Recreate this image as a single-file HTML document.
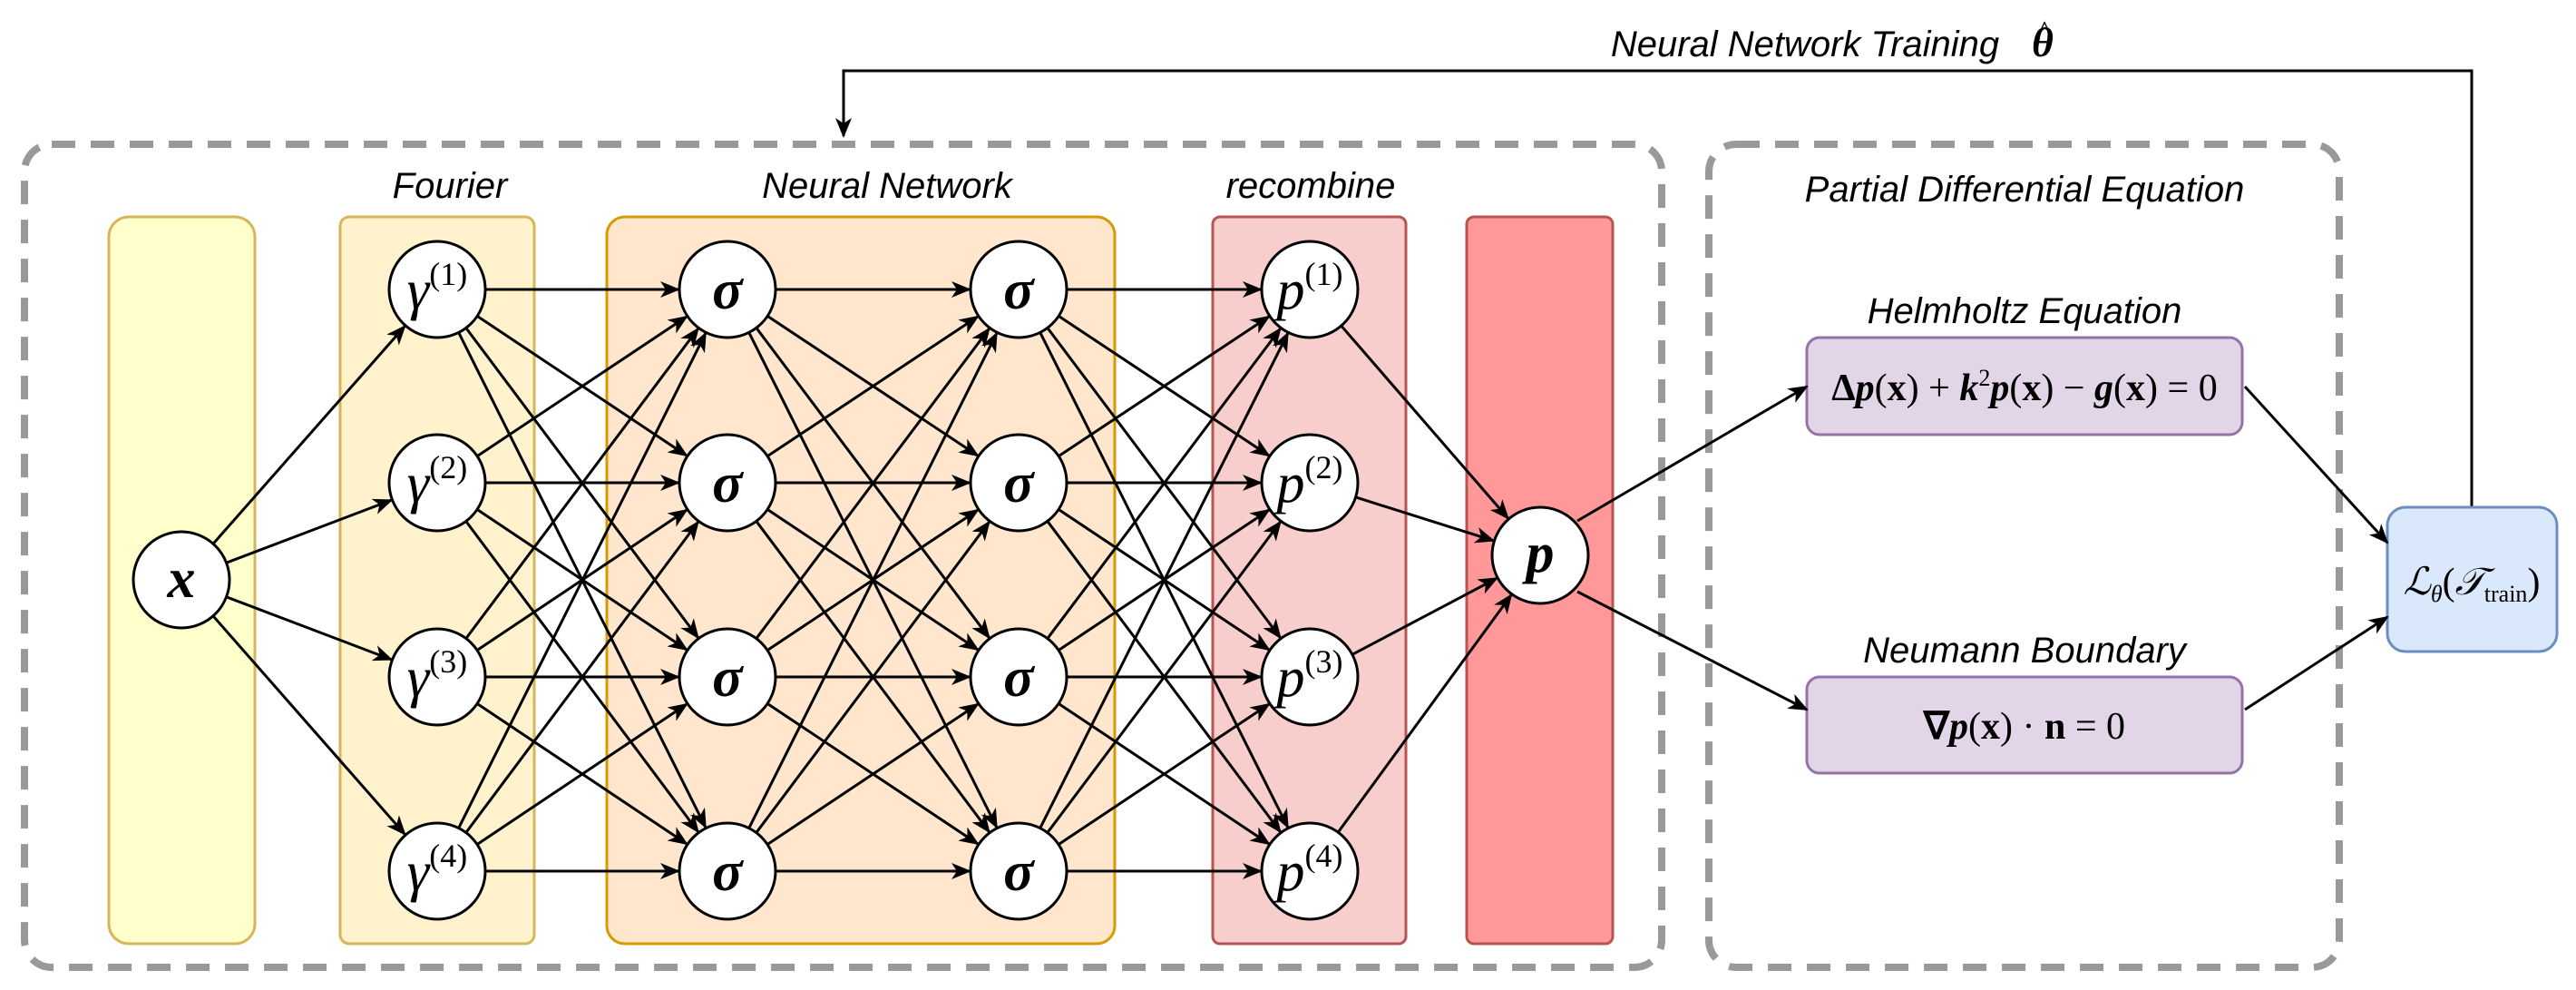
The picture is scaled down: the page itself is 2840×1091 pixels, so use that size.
<!DOCTYPE html>
<html><head><meta charset="utf-8"><style>
html,body{margin:0;padding:0;background:#fff;}
svg{display:block;}
.lab{font-family:"Liberation Sans",sans-serif;font-style:italic;font-size:40px;fill:#000;}
.m{font-family:"Liberation Serif",serif;font-style:italic;fill:#000;}
</style></head><body>
<svg id="s" width="2840" height="1091" viewBox="0 0 2840 1091" xmlns="http://www.w3.org/2000/svg">
<defs><marker id="a" markerWidth="22" markerHeight="18" refX="20" refY="9" orient="auto" markerUnits="userSpaceOnUse"><path d="M0,0 L22,9 L0,18 L6,9 z" fill="#000"/></marker></defs>
<rect x="27" y="159" width="1805" height="907" rx="30" fill="none" stroke="#999" stroke-width="8" stroke-dasharray="26 17"/>
<rect x="1884" y="159" width="695" height="907" rx="30" fill="none" stroke="#999" stroke-width="8" stroke-dasharray="26 17"/>
<rect x="120" y="239" width="161" height="801" rx="22" fill="#ffffcc" stroke="#d6b656" stroke-width="3"/>
<rect x="375" y="239" width="214" height="801" rx="10" fill="#fff2cc" stroke="#d6b656" stroke-width="3"/>
<rect x="669" y="239" width="560" height="801" rx="20" fill="#ffe6cc" stroke="#d79b00" stroke-width="3"/>
<rect x="1337" y="239" width="213" height="801" rx="8" fill="#f8cecc" stroke="#b85450" stroke-width="3"/>
<rect x="1617" y="239" width="161" height="801" rx="8" fill="#ff9999" stroke="#b85450" stroke-width="3"/>
<text class="lab" x="496" y="218" text-anchor="middle">Fourier</text>
<text class="lab" x="978" y="218" text-anchor="middle">Neural Network</text>
<text class="lab" x="1445" y="218" text-anchor="middle">recombine</text>
<text class="lab" x="2232" y="222" text-anchor="middle">Partial Differential Equation</text>
<text class="lab" x="2232" y="356" text-anchor="middle">Helmholtz Equation</text>
<text class="lab" x="2232" y="730" text-anchor="middle">Neumann Boundary</text>
<text class="lab" x="1990" y="62" text-anchor="middle">Neural Network Training</text>
<text class="m" x="2252" y="62" font-weight="bold" font-size="46" text-anchor="middle">θ</text>
<text x="2254" y="46" font-family="Liberation Serif,serif" font-size="34" text-anchor="middle">^</text>
<polyline points="2725,559 2725,78 930,78 930,150" fill="none" stroke="#000" stroke-width="3" marker-end="url(#a)"/>
<rect x="1992" y="372" width="480" height="107" rx="14" fill="#e1d5e7" stroke="#9673a6" stroke-width="3"/>
<rect x="1992" y="746" width="480" height="106" rx="14" fill="#e1d5e7" stroke="#9673a6" stroke-width="3"/>
<rect x="2632" y="559" width="187" height="159" rx="20" fill="#dae8fc" stroke="#6c8ebf" stroke-width="3"/>
<text x="2232" y="441" text-anchor="middle" font-family="Liberation Serif,serif" font-size="42"><tspan font-weight="bold">Δ</tspan><tspan font-style="italic" font-weight="bold">p</tspan>(<tspan font-weight="bold">x</tspan>) + <tspan font-style="italic" font-weight="bold">k</tspan><tspan font-size="26" dy="-16">2</tspan><tspan dy="16" font-style="italic" font-weight="bold">p</tspan>(<tspan font-weight="bold">x</tspan>) − <tspan font-style="italic" font-weight="bold">g</tspan>(<tspan font-weight="bold">x</tspan>) = 0</text>
<text x="2232" y="814" text-anchor="middle" font-family="Liberation Serif,serif" font-size="42"><tspan font-weight="bold">∇</tspan><tspan font-style="italic" font-weight="bold">p</tspan>(<tspan font-weight="bold">x</tspan>) · <tspan font-weight="bold">n</tspan> = 0</text>
<text x="2725" y="655" text-anchor="middle" font-family="Liberation Serif,serif" font-size="42"><tspan font-style="italic">ℒ</tspan><tspan font-style="italic" font-size="26" dy="8">θ</tspan><tspan dy="-8">(</tspan><tspan font-style="italic">𝒯</tspan><tspan font-size="26" dy="8">train</tspan><tspan dy="-8">)</tspan></text>
<g id="edges" stroke="#000" stroke-width="3" fill="none"></g>
<line x1="1739" y1="574" x2="1992" y2="426" stroke="#000" stroke-width="3" marker-end="url(#a)"/>
<line x1="1739" y1="652" x2="1992" y2="782" stroke="#000" stroke-width="3" marker-end="url(#a)"/>
<line x1="2475" y1="426" x2="2632" y2="598" stroke="#000" stroke-width="3" marker-end="url(#a)"/>
<line x1="2475" y1="782" x2="2632" y2="680" stroke="#000" stroke-width="3" marker-end="url(#a)"/>
<g id="nodes" fill="#fff" stroke="#000" stroke-width="3">
<circle cx="200" cy="639" r="53"/>
<circle cx="482" cy="319" r="53"/><circle cx="482" cy="532" r="53"/><circle cx="482" cy="746" r="53"/><circle cx="482" cy="960" r="53"/>
<circle cx="802" cy="319" r="53"/><circle cx="802" cy="532" r="53"/><circle cx="802" cy="746" r="53"/><circle cx="802" cy="960" r="53"/>
<circle cx="1123" cy="319" r="53"/><circle cx="1123" cy="532" r="53"/><circle cx="1123" cy="746" r="53"/><circle cx="1123" cy="960" r="53"/>
<circle cx="1444" cy="319" r="53"/><circle cx="1444" cy="532" r="53"/><circle cx="1444" cy="746" r="53"/><circle cx="1444" cy="960" r="53"/>
<circle cx="1698" cy="612" r="53"/>
</g>
<g class="m" font-size="62" text-anchor="middle">
<text x="200" y="658" font-weight="bold">x</text>
<text x="1698" y="630" font-weight="bold">p</text>
<g font-weight="bold">
<text x="802" y="340">σ</text><text x="802" y="553">σ</text><text x="802" y="767">σ</text><text x="802" y="981">σ</text>
<text x="1123" y="340">σ</text><text x="1123" y="553">σ</text><text x="1123" y="767">σ</text><text x="1123" y="981">σ</text>
</g>
<text x="482" y="340">γ<tspan font-style="normal" font-size="36" dy="-26">(1)</tspan></text>
<text x="482" y="553">γ<tspan font-style="normal" font-size="36" dy="-26">(2)</tspan></text>
<text x="482" y="767">γ<tspan font-style="normal" font-size="36" dy="-26">(3)</tspan></text>
<text x="482" y="981">γ<tspan font-style="normal" font-size="36" dy="-26">(4)</tspan></text>
<text x="1444" y="340">p<tspan font-style="normal" font-size="36" dy="-26">(1)</tspan></text>
<text x="1444" y="553">p<tspan font-style="normal" font-size="36" dy="-26">(2)</tspan></text>
<text x="1444" y="767">p<tspan font-style="normal" font-size="36" dy="-26">(3)</tspan></text>
<text x="1444" y="981">p<tspan font-style="normal" font-size="36" dy="-26">(4)</tspan></text>
</g>
</svg>
<script>
(function(){
var g=document.getElementById('edges'),NS='http://www.w3.org/2000/svg',r=54;
var ys=[319,532,746,960];
function L(x1,y1,x2,y2){var dx=x2-x1,dy=y2-y1,d=Math.sqrt(dx*dx+dy*dy);
var l=document.createElementNS(NS,'line');
l.setAttribute('x1',x1+dx/d*r);l.setAttribute('y1',y1+dy/d*r);
l.setAttribute('x2',x2-dx/d*r);l.setAttribute('y2',y2-dy/d*r);
l.setAttribute('marker-end','url(#a)');g.appendChild(l);}
ys.forEach(function(y){L(200,639,482,y);});
var cols=[482,802,1123,1444];
for(var c=0;c<3;c++)ys.forEach(function(a){ys.forEach(function(b){L(cols[c],a,cols[c+1],b);});});
ys.forEach(function(y){L(1444,y,1698,612);});
})();
</script>
</body></html>
